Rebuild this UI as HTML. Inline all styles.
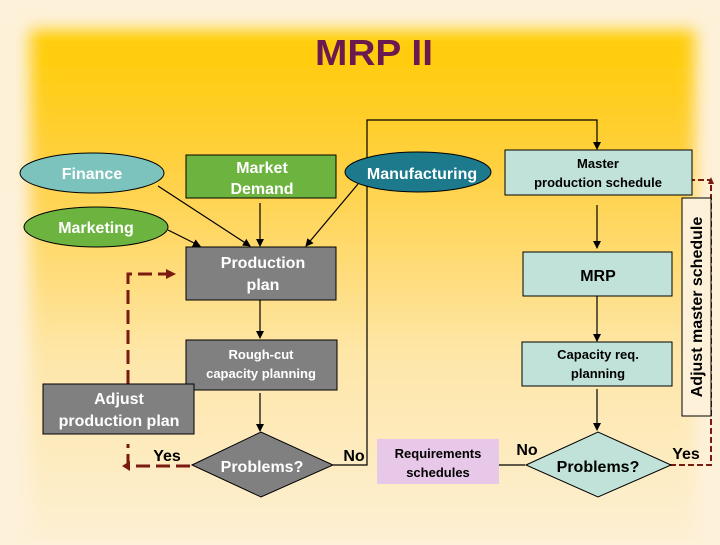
<!DOCTYPE html>
<html><head><meta charset="utf-8"><style>
body{margin:0;width:720px;height:540px;overflow:hidden;background:#fdf1da;font-family:"Liberation Sans",sans-serif}
</style></head><body>
<svg width="720" height="540" viewBox="0 0 720 540" xmlns="http://www.w3.org/2000/svg" font-family="Liberation Sans, sans-serif">
<defs>
<linearGradient id="bg" x1="0" y1="0" x2="0" y2="1">
<stop offset="0" stop-color="#ffcc00"/><stop offset="0.25" stop-color="#ffd040"/><stop offset="0.6" stop-color="#fee6a8"/><stop offset="1" stop-color="#fdf1da"/>
</linearGradient>
<filter id="bl"><feGaussianBlur stdDeviation="8"/></filter>
<marker id="a" markerWidth="8" markerHeight="8" refX="7" refY="4" orient="auto" markerUnits="userSpaceOnUse"><path d="M0,0 L8,4 L0,8 z" fill="#000"/></marker>
<marker id="r" markerWidth="10" markerHeight="10" refX="9" refY="5" orient="auto" markerUnits="userSpaceOnUse"><path d="M0,0 L10,5 L0,10 z" fill="#7a1a10"/></marker>
</defs>
<rect width="720" height="540" fill="#fdf1da"/>
<rect x="30" y="30" width="665" height="540" fill="url(#bg)" filter="url(#bl)"/>
<text x="374" y="65" text-anchor="middle" font-size="36" font-weight="bold" fill="#6b1a50" textLength="118" lengthAdjust="spacingAndGlyphs">MRP II</text>

<g stroke="#000" stroke-width="1.2" fill="none">
<line x1="158" y1="186" x2="250" y2="246" marker-end="url(#a)"/>
<line x1="260" y1="203" x2="260" y2="246" marker-end="url(#a)"/>
<line x1="168" y1="230" x2="200" y2="246" marker-end="url(#a)"/>
<line x1="358" y1="184" x2="306" y2="246" marker-end="url(#a)"/>
<line x1="260" y1="300" x2="260" y2="338" marker-end="url(#a)"/>
<line x1="260" y1="393" x2="260" y2="431" marker-end="url(#a)"/>
<polyline points="333,465 367,465 367,120 597,120 597,149" marker-end="url(#a)"/>
<line x1="597" y1="205" x2="597" y2="248" marker-end="url(#a)"/>
<line x1="597" y1="296" x2="597" y2="341" marker-end="url(#a)"/>
<line x1="597" y1="389" x2="597" y2="430" marker-end="url(#a)"/>
<line x1="525" y1="465" x2="492" y2="465" marker-end="url(#a)"/>
</g>
<g stroke="#7a1a10" stroke-width="3" fill="none" stroke-dasharray="14,6">
<polyline points="128,384 128,274 175,274" marker-end="url(#r)"/>
<polyline points="190,466 128,466 128,444"/>
</g>
<path d="M130,461 L122,466 L130,471z" fill="#7a1a10"/>
<g stroke="#7a1a10" stroke-width="2" fill="none" stroke-dasharray="6,3">
<polyline points="670,465 711,465 711,180 680,180"/>
</g>
<path d="M683,176 L676,180 L683,184z M708,184 L711,177 L714,184z" fill="#7a1a10"/>

<g font-weight="bold">
<ellipse cx="92" cy="173" rx="72" ry="20" fill="#7cc2bd" stroke="#000"/>
<text x="92" y="179" text-anchor="middle" font-size="16" fill="#fff">Finance</text>
<ellipse cx="96" cy="227" rx="72" ry="20" fill="#6db33f" stroke="#000"/>
<text x="96" y="233" text-anchor="middle" font-size="16" fill="#fff">Marketing</text>
<rect x="186" y="155" width="150" height="43" fill="#6db33f" stroke="#000"/>
<text x="262" y="173" text-anchor="middle" font-size="16" fill="#fff">Market</text>
<text x="262" y="194" text-anchor="middle" font-size="16" fill="#fff">Demand</text>
<ellipse cx="418" cy="172" rx="73" ry="20" fill="#1c7a8c" stroke="#000"/>
<text x="422" y="179" text-anchor="middle" font-size="16" fill="#fff">Manufacturing</text>

<rect x="186" y="247" width="150" height="53" fill="#808080" stroke="#000"/>
<text x="263" y="268" text-anchor="middle" font-size="16" fill="#fff">Production</text>
<text x="263" y="290" text-anchor="middle" font-size="16" fill="#fff">plan</text>
<rect x="186" y="340" width="151" height="50" fill="#808080" stroke="#000"/>
<text x="261" y="359" text-anchor="middle" font-size="13" fill="#fff">Rough-cut</text>
<text x="261" y="378" text-anchor="middle" font-size="13" fill="#fff">capacity planning</text>
<rect x="43" y="384" width="151" height="50" fill="#808080" stroke="#000"/>
<text x="119" y="404" text-anchor="middle" font-size="16" fill="#fff">Adjust</text>
<text x="119" y="426" text-anchor="middle" font-size="16" fill="#fff">production plan</text>
<polygon points="192,465 261,432 333,465 261,497" fill="#808080" stroke="#000"/>
<text x="262" y="472" text-anchor="middle" font-size="16" fill="#fff">Problems?</text>
<text x="167" y="461" text-anchor="middle" font-size="16" fill="#000">Yes</text>
<text x="354" y="461" text-anchor="middle" font-size="16" fill="#000">No</text>

<rect x="377" y="439" width="122" height="45" fill="#e8c8e8"/>
<text x="438" y="458" text-anchor="middle" font-size="13" fill="#000">Requirements</text>
<text x="438" y="477" text-anchor="middle" font-size="13" fill="#000">schedules</text>

<rect x="505" y="150" width="187" height="45" fill="#c0e2d8" stroke="#000"/>
<text x="598" y="168" text-anchor="middle" font-size="13" fill="#000">Master</text>
<text x="598" y="187" text-anchor="middle" font-size="13" fill="#000">production schedule</text>
<rect x="523" y="252" width="149" height="44" fill="#c0e2d8" stroke="#000"/>
<text x="598" y="281" text-anchor="middle" font-size="16" fill="#000">MRP</text>
<rect x="522" y="342" width="150" height="44" fill="#c0e2d8" stroke="#000"/>
<text x="598" y="359" text-anchor="middle" font-size="13" fill="#000">Capacity req.</text>
<text x="598" y="378" text-anchor="middle" font-size="13" fill="#000">planning</text>
<polygon points="526,465 598,432 671,465 598,497" fill="#c0e2d8" stroke="#000"/>
<text x="598" y="472" text-anchor="middle" font-size="16" fill="#000">Problems?</text>
<text x="527" y="455" text-anchor="middle" font-size="16" fill="#000">No</text>
<text x="686" y="459" text-anchor="middle" font-size="16" fill="#000">Yes</text>

<rect x="682" y="198" width="29" height="218" fill="#fdf1da" stroke="#000"/>
<text transform="translate(702,307) rotate(-90)" text-anchor="middle" font-size="16" fill="#000">Adjust master schedule</text>
</g>
</svg>
</body></html>
